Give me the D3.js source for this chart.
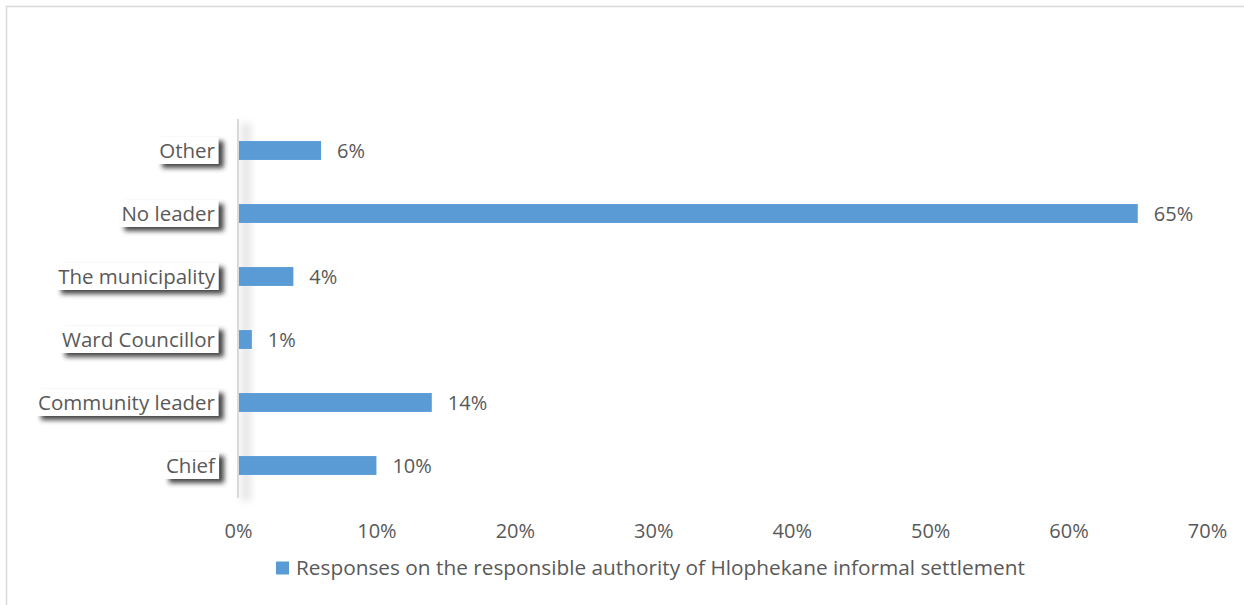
<!DOCTYPE html>
<html>
<head>
<meta charset="utf-8">
<script src="https://cdn.jsdelivr.net/npm/d3@7/dist/d3.min.js"></script>
<style>
  html, body { margin: 0; padding: 0; background: #fff; }
  svg { display: block; }
  text { font-family: "Open Sans", "Noto Sans", sans-serif; fill: #595959; }
</style>
</head>
<body>
<svg id="chart" width="1244" height="605"></svg>
<script>
// Responsible authority of Hlophekane informal settlement (share of responses)
const categories = ["Chief", "Community leader", "Ward Councillor", "The municipality", "No leader", "Other"];
const values = [10, 14, 1, 4, 65, 6];
const tickValues = [0, 10, 20, 30, 40, 50, 60, 70];
const seriesName = "Responses on the responsible authority of Hlophekane informal settlement";

const svg = d3.select("#chart");
const W = 1244, H = 605;
const margin = { left: 238, right: 37, top: 119, bottom: 108 };

const defs = svg.append("defs");
defs.append("filter").attr("id", "labelShadow")
  .attr("x", "-20%").attr("y", "-40%").attr("width", "140%").attr("height", "180%")
  .append("feGaussianBlur").attr("stdDeviation", 2.4);
defs.append("filter").attr("id", "axisShadow")
  .attr("x", "-200%").attr("y", "-10%").attr("width", "500%").attr("height", "120%")
  .append("feGaussianBlur").attr("stdDeviation", 3.5);

// Outer chart frame
svg.append("rect")
  .attr("x", 6.5).attr("y", 6.5).attr("width", W).attr("height", H)
  .attr("fill", "#fff").attr("stroke", "#d9d9d9").attr("stroke-width", 1.5);

const x = d3.scaleLinear().domain([0, 70]).range([margin.left, W - margin.right]);
const y = d3.scaleBand().domain(categories)
  .range([H - margin.bottom, margin.top])
  .paddingInner(0.7).paddingOuter(0.35);

// Vertical category axis with soft shadow
svg.append("rect")
  .attr("x", x(0) + 3).attr("y", margin.top + 4)
  .attr("width", 10).attr("height", H - margin.bottom - margin.top)
  .attr("fill", "#d4d4d4").attr("opacity", 0.55)
  .attr("filter", "url(#axisShadow)");
svg.append("line")
  .attr("x1", x(0)).attr("x2", x(0))
  .attr("y1", margin.top).attr("y2", H - margin.bottom + 1)
  .attr("stroke", "#d9d9d9").attr("stroke-width", 2);

// Bars
svg.append("g").selectAll("rect")
  .data(categories.map((c, i) => ({ c, v: values[i] })))
  .join("rect")
  .attr("x", x(0) + 1)
  .attr("y", d => y(d.c))
  .attr("width", d => x(d.v) - x(0) - 1)
  .attr("height", y.bandwidth())
  .attr("fill", "#5b9bd5");

// Value labels
svg.append("g").selectAll("text")
  .data(categories.map((c, i) => ({ c, v: values[i] })))
  .join("text")
  .attr("x", d => x(d.v) + 16)
  .attr("y", d => y(d.c) + y.bandwidth() / 2)
  .attr("dy", "0.35em")
  .attr("font-size", 20)
  .text(d => d.v + "%");

// Category labels in white boxes with drop shadow
const axisY = d3.axisLeft(y).tickSize(0).tickPadding(0);
const gy = svg.append("g").attr("transform", `translate(${x(0) - 23},0)`).call(axisY);
gy.select(".domain").remove();
gy.selectAll(".tick text")
  .attr("font-size", 20.5)
  .attr("dy", "0.35em")
  .style("font-family", "'Open Sans', 'Noto Sans', sans-serif")
  .attr("fill", "#595959");
gy.selectAll(".tick").each(function () {
  const t = d3.select(this);
  const bb = t.select("text").node().getBBox();
  const bx = bb.x - 2, by = -13.5, bw = bb.width + 5, bh = 27;
  t.insert("rect", "text")
    .attr("x", bx + 5).attr("y", by + 4).attr("width", bw).attr("height", bh)
    .attr("fill", "#303030").attr("opacity", 0.9)
    .attr("filter", "url(#labelShadow)");
  t.insert("rect", "text")
    .attr("x", bx).attr("y", by).attr("width", bw).attr("height", bh)
    .attr("fill", "#fff");
});

// Horizontal value axis tick labels
const axisX = d3.axisBottom(x).tickValues(tickValues).tickSize(0).tickPadding(0)
  .tickFormat(d => d + "%");
const gx = svg.append("g").attr("transform", `translate(0,${H - margin.bottom + 33})`).call(axisX);
gx.select(".domain").remove();
gx.selectAll(".tick text")
  .attr("font-size", 20)
  .attr("dy", "0")
  .attr("y", 0)
  .style("dominant-baseline", "central")
  .style("font-family", "'Open Sans', 'Noto Sans', sans-serif")
  .attr("fill", "#595959");

// Legend
const lg = svg.append("g").attr("transform", "translate(276,568)");
lg.append("rect").attr("x", 0).attr("y", -6.5).attr("width", 13).attr("height", 13).attr("fill", "#5b9bd5");
lg.append("text").attr("x", 20).attr("y", 0).attr("dy", "0.35em")
  .attr("font-size", 20.8).text(seriesName);
</script>
</body>
</html>
